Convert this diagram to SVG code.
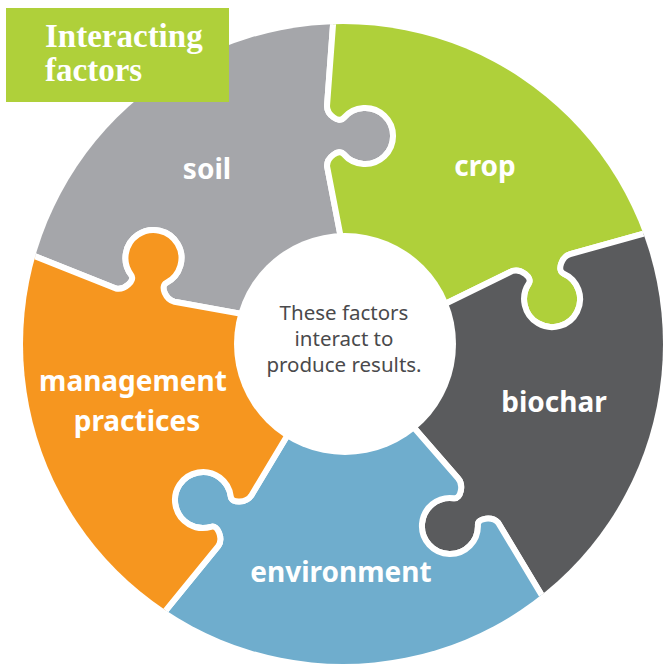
<svg xmlns="http://www.w3.org/2000/svg" width="664" height="664" viewBox="0 0 664 664">
  <defs>
    <clipPath id="ring">
      <circle cx="343" cy="344" r="320"/>
    </clipPath>
    <style>
      .piece { stroke: #ffffff; stroke-width: 6; stroke-linejoin: round; clip-path: url(#ring); }
      .label { font-family: "Noto Sans", "Open Sans", sans-serif; font-weight: 700; font-size: 28px; fill: #ffffff; text-anchor: middle; }
      .center { font-family: "Noto Sans", "Open Sans", sans-serif; font-size: 20.5px; fill: #4a4a4c; text-anchor: middle; }
      .title { font-family: "Liberation Serif", "Times New Roman", serif; font-weight: 700; font-size: 33px; fill: #ffffff; }
    </style>
  </defs>
  <rect width="664" height="664" fill="#ffffff"/>

  <g id="soil">
    <path class="piece" fill="#a5a6aa" d="M 345,344 L 270,319 L 174.4,301.7 C 165.6,299.7 160,286.1 166.3,282.9 A 28 28 0 1 0 131.2,275 C 135.5,280.5 124.6,290.5 115.9,288.5 L -51,222 L -16,-137 L 339,-56 L 327,106 C 327,115 339.1,123.4 343.6,118 A 28 28 0 1 1 343.6,154 C 339.1,148.6 327,157 327,166 L 351,290 Z"/>
    <text class="label" x="207" y="179">soil</text>
  </g>

  <g id="crop">
    <path class="piece" fill="#afd03a" d="M 345,344 L 351,290 L 327,166 C 327,157 339.1,148.6 343.6,154 A 28 28 0 1 0 343.6,118 C 339.1,123.4 327,115 327,106 L 339,-56 L 689,-147 L 729,210 L 570.2,254.1 C 561.6,256.6 556.9,270.6 563.3,273.4 A 28 28 0 1 1 528.8,283.5 C 532.7,277.6 521.2,268.4 512.6,270.9 L 400,326 Z"/>
    <text class="label" x="485" y="176">crop</text>
  </g>

  <g id="biochar">
    <path class="piece" fill="#5a5b5d" d="M 345,344 L 400,326 L 512.6,270.9 C 521.2,268.4 532.7,277.6 528.8,283.5 A 28 28 0 1 0 563.3,273.4 C 556.9,270.6 561.6,256.6 570.2,254.1 L 729,210 L 917,519 L 583,664 L 498.2,522.7 C 492.2,516 477.6,517.9 477.9,524.9 A 28 28 0 1 1 453.8,498.3 C 460.7,499.3 464,485 458,478.3 L 396,407 Z"/>
    <text class="label" x="554" y="412">biochar</text>
  </g>

  <g id="environment">
    <path class="piece" fill="#6fadcd" d="M 345,344 L 396,407 L 458,478.3 C 464,485 460.7,499.3 453.8,498.3 A 28 28 0 1 0 477.9,524.9 C 477.6,517.9 492.2,516 498.2,522.7 L 583,664 L 354,944 L 114,674 L 218.4,545.9 C 223.3,538.4 217.8,524.7 211.1,526.8 A 28 28 0 1 1 230.8,496.7 C 231.6,503.6 246.3,503.2 251.2,495.7 L 302,411 Z"/>
    <text class="label" x="341" y="582">environment</text>
  </g>

  <g id="management">
    <path class="piece" fill="#f6961f" d="M 345,344 L 302,411 L 251.2,495.7 C 246.3,503.2 231.6,503.6 230.8,496.7 A 28 28 0 1 0 211.1,526.8 C 217.8,524.7 223.3,538.4 218.4,545.9 L 114,674 L -224,539 L -51,222 L 115.9,288.5 C 124.6,290.5 135.5,280.5 131.2,275 A 28 28 0 1 1 166.3,282.9 C 160,286.1 165.6,299.7 174.4,301.7 L 270,319 Z"/>
    <text class="label" x="133" y="391">management</text>
    <text class="label" x="137" y="431">practices</text>
  </g>

  <g id="hub">
    <circle cx="345" cy="344" r="111" fill="#ffffff"/>
    <text class="center" x="344" y="320">These factors</text>
    <text class="center" x="344" y="346">interact to</text>
    <text class="center" x="344" y="372">produce results.</text>
  </g>

  <g id="title">
    <rect x="6" y="8" width="223" height="94" fill="#afd03a"/>
    <text class="title" x="45" y="47">Interacting</text>
    <text class="title" x="45" y="81">factors</text>
  </g>
</svg>
